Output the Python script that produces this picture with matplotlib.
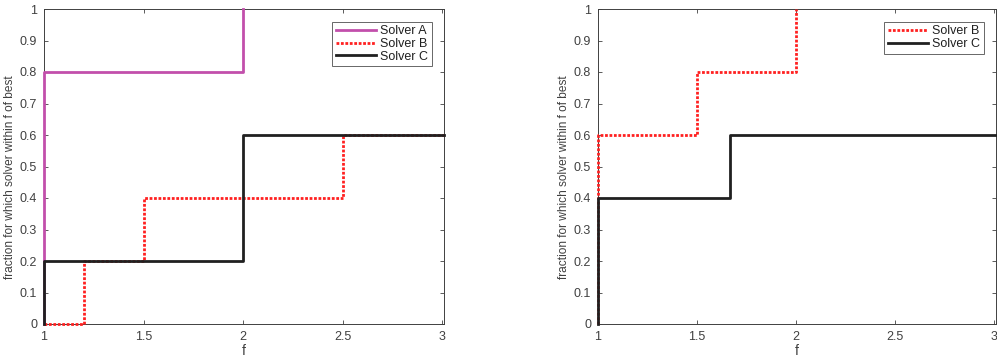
import matplotlib.pyplot as plt

plt.rcParams['font.family'] = ['Liberation Sans', 'DejaVu Sans']

# left panel: ratios where each solver steps, and the fraction after each step
a_x = [1, 1, 2, 2]
a_y = [0, 0.8, 0.8, 1.0]
b_x = [1, 1.2, 1.2, 1.5, 1.5, 2.5, 2.5, 3.01]
b_y = [0, 0, 0.2, 0.2, 0.4, 0.4, 0.6, 0.6]
c_x = [1, 1, 2, 2, 3.01]
c_y = [0, 0.2, 0.2, 0.6, 0.6]

# right panel
b2_x = [1, 1, 1.5, 1.5, 2, 2]
b2_y = [0, 0.6, 0.6, 0.8, 0.8, 1.0]
c2_x = [1, 1, 5 / 3, 5 / 3, 3.01]
c2_y = [0, 0.4, 0.4, 0.6, 0.6]

pink = "#c24fab"
red = "#ff2020"
black = "#202020"
grey = "#404040"

fig = plt.figure(figsize=(9.97, 3.6), dpi=100)
ax1 = fig.add_axes([44 / 997, 36 / 360, 400 / 997, 315 / 360])
ax2 = fig.add_axes([598 / 997, 36 / 360, 398 / 997, 315 / 360])

dots = (0, (1, 0.6))
ax1.plot(a_x, a_y, color=pink, lw=2, label="Solver A", clip_on=False, zorder=3)
ax1.plot(b_x, b_y, color=red, lw=2, ls=dots, label="Solver B", clip_on=False, zorder=3)
ax1.plot(c_x, c_y, color=black, lw=2, label="Solver C", clip_on=False, zorder=3)

ax2.plot(b2_x, b2_y, color=red, lw=2, ls=dots, label="Solver B", clip_on=False, zorder=3)
ax2.plot(c2_x, c2_y, color=black, lw=2, label="Solver C", clip_on=False, zorder=3)

for ax in (ax1, ax2):
    ax.set_xlim(1, 3.01)
    ax.set_ylim(0, 1)
    ax.set_xticks([1, 1.5, 2, 2.5, 3])
    ax.set_xticklabels(["1", "1.5", "2", "2.5", "3"])
    ax.set_yticks([i / 10 for i in range(11)])
    ax.set_yticklabels(["0", "0.1", "0.2", "0.3", "0.4", "0.5", "0.6", "0.7", "0.8", "0.9", "1"])
    ax.tick_params(direction="in", length=3, width=0.6, labelsize=9, colors=grey,
                   top=True, right=True, pad=5)
    for s in ax.spines.values():
        s.set_color(grey)
        s.set_linewidth(0.7)
    ax.set_xlabel("f", fontsize=10, color=grey, labelpad=1)
    ax.set_ylabel("fraction for which solver within f of best", fontsize=8.6,
                  color=grey)
    ax.yaxis.set_label_coords(-0.07, 0.467)
    leg = ax.legend(loc="upper right", fontsize=9, frameon=True, fancybox=False,
                    handlelength=3.2, handletextpad=0.3, borderpad=0.3,
                    labelspacing=0.05, borderaxespad=1.0)
    leg.set_zorder(5)
    leg.get_frame().set_edgecolor(grey)
    leg.get_frame().set_linewidth(0.7)
    for t in leg.get_texts():
        t.set_color("#202020")

fig.savefig("out.png", dpi=100)
